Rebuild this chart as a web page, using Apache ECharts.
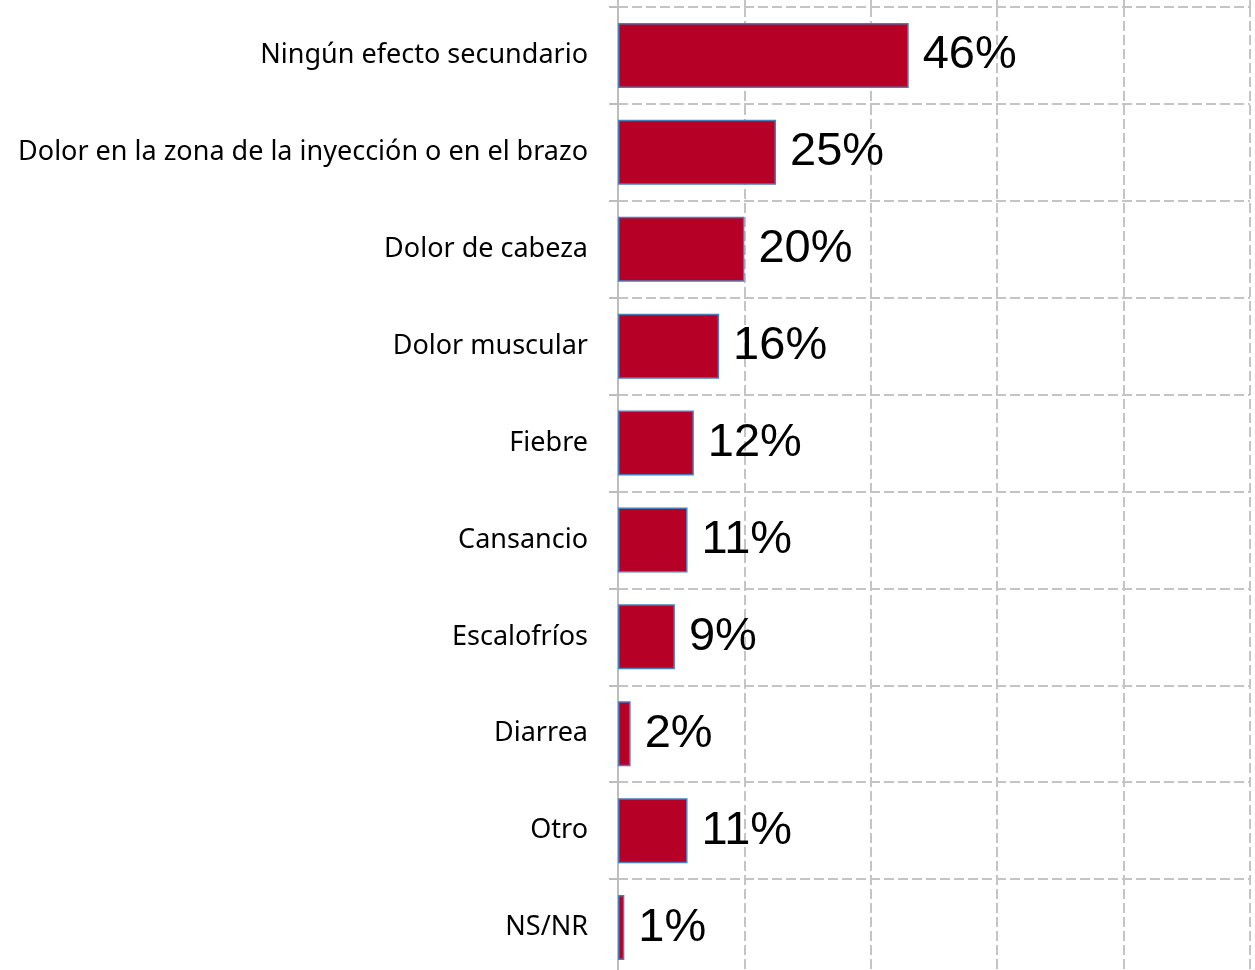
<!DOCTYPE html>
<html>
<head>
<meta charset="utf-8">
<script src="https://cdn.jsdelivr.net/npm/echarts@6/dist/echarts.min.js"></script>
<style>
html,body{margin:0;padding:0;background:#fff;}
#chart{width:1255px;height:970px;}
</style>
</head>
<body>
<div id="chart"></div>
<script>
const categories = [
  "Ningún efecto secundario",
  "Dolor en la zona de la inyección o en el brazo",
  "Dolor de cabeza",
  "Dolor muscular",
  "Fiebre",
  "Cansancio",
  "Escalofríos",
  "Diarrea",
  "Otro",
  "NS/NR"
];
const values = [46, 25, 20, 16, 12, 11, 9, 2, 11, 1];
const xMin = 0, xMax = 100, xInterval = 20;

const chart = echarts.init(document.getElementById('chart'), null, {renderer: 'canvas'});
const gridColor = '#C4C4C4';
chart.setOption({
  animation: false,
  backgroundColor: '#ffffff',
  grid: {left: 618, right: 5, top: 7, height: 969, containLabel: false, outerBoundsMode: 'none'},
  xAxis: {
    type: 'value', position: 'top', min: xMin, max: xMax, interval: xInterval,
    axisLine: {show: false},
    axisTick: {show: true, length: 7, lineStyle: {color: gridColor, width: 2, type: [10, 4]}},
    axisLabel: {show: false},
    splitLine: {show: true, lineStyle: {color: gridColor, width: 2, type: [10, 4]}}
  },
  yAxis: {
    type: 'category', inverse: true, data: categories,
    axisLine: {show: true, lineStyle: {color: '#BDBDBD', width: 2}},
    axisTick: {show: true, length: 9, lineStyle: {color: '#BDBDBD', width: 2}},
    axisLabel: {
      margin: 30, color: '#000', fontSize: 27, fontFamily: 'Noto Sans',
      padding: [6, 0, 0, 0]
    },
    splitLine: {show: true, lineStyle: {color: gridColor, width: 2, type: [10, 4]}}
  },
  series: [{
    type: 'bar', data: values, barWidth: 65,
    itemStyle: {color: '#B70026', borderColor: '#4A7EBB', borderWidth: 1.5},
    label: {
      show: true, position: 'right', distance: 14,
      formatter: p => p.value + '%',
      color: '#000', fontSize: 47, fontFamily: 'Liberation Sans',
      padding: [6, 0, 0, 0]
    }
  }]
});
</script>
</body>
</html>
